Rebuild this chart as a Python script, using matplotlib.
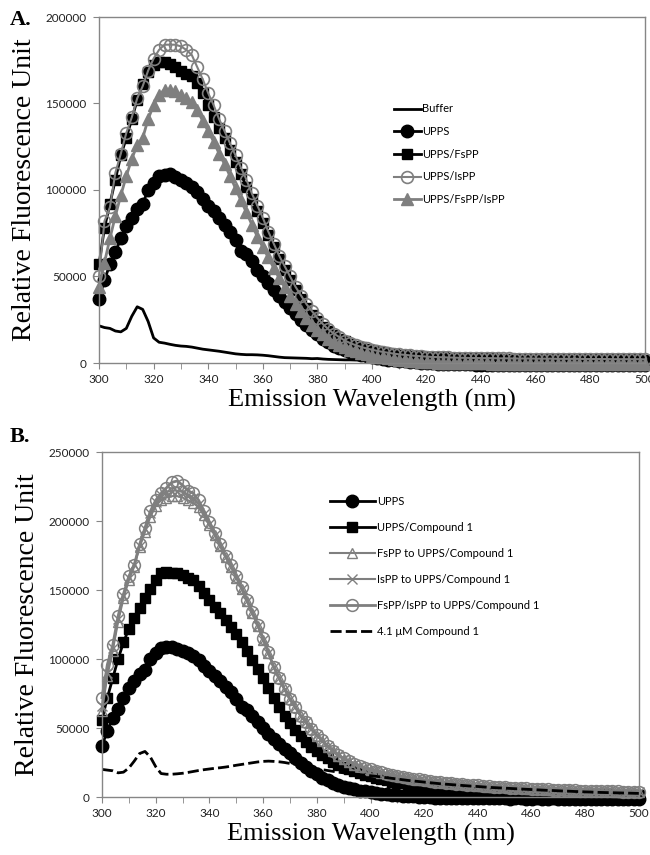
import numpy as np
import matplotlib
matplotlib.use('Agg')
import matplotlib.pyplot as plt
from matplotlib.ticker import MultipleLocator

# emission wavelength, one reading every 2 nm
wavelength = np.arange(300, 501, 2)

# ---- panel A, values in thousands of RFU ----
buffer_a = [21.5, 20.5, 20.0, 18.5, 18.0, 20.0, 27.0, 32.5, 31.0, 24.0,
            14.5, 12.0, 11.5, 10.8, 10.2, 9.8, 9.6, 9.2, 8.6, 8.0,
            7.6, 7.2, 6.8, 6.3, 5.8, 5.3, 5.0, 4.8, 4.8, 4.7,
            4.5, 4.2, 3.8, 3.4, 3.1, 3.0, 2.9, 2.8, 2.7, 2.5,
            2.6, 2.3, 2.1, 2.0, 1.9, 1.8, 1.8, 1.7, 1.7, 1.6,
            1.5, 1.5, 1.4, 1.4, 1.3, 1.3, 1.2, 1.2, 1.1, 1.1,
            1.0, 1.0, 1.0, 0.9, 0.9, 0.9, 0.8, 0.8, 0.8, 0.8,
            0.7, 0.7, 0.7, 0.7, 0.7, 0.6, 0.6, 0.6, 0.6, 0.6,
            0.6, 0.5, 0.5, 0.5, 0.5, 0.5, 0.5, 0.5, 0.4, 0.4,
            0.4, 0.4, 0.4, 0.4, 0.4, 0.3, 0.3, 0.3, 0.3, 0.3,
            0.3]

upps = [37, 48, 57, 64, 72, 79, 84, 89, 92, 100,
        104, 108, 108.5, 109, 107.5, 106, 104, 102, 99, 95,
        91, 88, 84, 80, 76, 71, 65, 63, 59, 54,
        50, 46, 42, 38.5, 35, 32, 28.5, 25, 22, 19,
        16.5, 14, 12, 10, 8.5, 7.3, 6.3, 5.5, 4.7, 4.0,
        3.4, 2.9, 2.4, 2.0, 1.6, 1.3, 1.0, 0.7, 0.4, 0.2,
        0.0, -0.2, -0.4, -0.5, -0.6, -0.7, -0.7, -0.8, -0.8, -0.9,
        -0.9, -0.9, -1.0, -1.0, -1.0, -1.0, -1.1, -1.0, -1.0, -1.1,
        -1.1, -1.0, -1.1, -1.1, -1.0, -1.1, -1.1, -1.2, -1.1, -1.1,
        -1.2, -1.1, -1.2, -1.2, -1.1, -1.2, -1.2, -1.2, -1.1, -1.2,
        -1.2]

upps_fspp = [57, 78, 92, 106, 120, 130, 141, 152, 161, 168,
             172, 174, 174, 173, 171, 169, 167, 166, 162, 156,
             149, 142, 136, 130, 123, 116, 109, 102, 95, 88,
             81, 74, 67, 60, 54, 48, 42, 37, 32, 28,
             24, 21, 18.5, 16, 14, 12.5, 11, 10, 9.0, 8.2,
             7.5, 6.8, 6.2, 5.7, 5.3, 4.9, 4.6, 4.3, 4.0, 3.8,
             3.6, 3.4, 3.3, 3.2, 3.1, 3.0, 2.9, 2.9, 2.8, 2.8,
             2.7, 2.7, 2.7, 2.6, 2.6, 2.6, 2.5, 2.5, 2.5, 2.5,
             2.4, 2.4, 2.4, 2.4, 2.3, 2.3, 2.3, 2.3, 2.3, 2.2,
             2.2, 2.2, 2.2, 2.2, 2.1, 2.1, 2.1, 2.1, 2.1, 2.1,
             2.0]

upps_ispp = [50, 82, 90, 110, 121, 133, 142, 153, 160, 169,
             176, 181, 184, 184, 184, 183, 181, 178, 171, 164,
             156, 149, 141, 134, 127, 120, 113, 106, 98, 91,
             84, 76, 69, 62, 56, 50, 44, 39, 34, 30,
             26, 22.5, 19.5, 17, 15, 13, 11.5, 10.3, 9.3, 8.4,
             7.7, 7.0, 6.4, 5.9, 5.4, 5.0, 4.7, 4.4, 4.1, 3.9,
             3.7, 3.5, 3.4, 3.3, 3.2, 3.1, 3.0, 3.0, 2.9, 2.9,
             2.8, 2.8, 2.8, 2.7, 2.7, 2.7, 2.6, 2.6, 2.6, 2.6,
             2.5, 2.5, 2.5, 2.5, 2.4, 2.4, 2.4, 2.4, 2.4, 2.3,
             2.3, 2.3, 2.3, 2.3, 2.2, 2.2, 2.2, 2.2, 2.2, 2.2,
             2.1]

upps_fspp_ispp = [44, 58, 72, 85, 97, 108, 118, 126, 130, 141,
                  149, 155, 158, 158, 157, 155, 153, 151, 146, 140,
                  134, 128, 121, 115, 108, 101, 94, 87, 80, 73,
                  67, 61, 55, 49, 44, 39, 34, 30, 26, 22,
                  19, 16.5, 14, 12, 10.5, 9.0, 7.8, 6.7, 5.8, 5.0,
                  4.3, 3.7, 3.2, 2.7, 2.3, 1.9, 1.6, 1.3, 1.0, 0.7,
                  0.5, 0.3, 0.2, 0.1, 0.0, 0.0, -0.1, -0.1, -0.2, -0.2,
                  -0.2, -0.2, -0.3, -0.3, -0.3, -0.3, -0.3, -0.3, -0.4, -0.4,
                  -0.4, -0.4, -0.4, -0.4, -0.4, -0.4, -0.5, -0.5, -0.5, -0.5,
                  -0.5, -0.5, -0.5, -0.5, -0.5, -0.5, -0.5, -0.5, -0.5, -0.5,
                  -0.5]

# ---- panel B, values in thousands of RFU (UPPS curve is the same as A) ----
upps_cmpd1 = [56, 72, 86, 100, 112, 122, 130, 137, 144, 151,
              157, 162, 163, 162, 162, 161, 159, 157, 153, 148,
              143, 138, 133, 128, 123, 118, 112, 106, 99, 93,
              86, 79, 72, 65, 59, 53.5, 48.5, 44, 40, 36.5,
              33, 30.5, 28, 25.5, 23.5, 21.5, 20, 18.5, 17.2, 16,
              15, 14, 13, 12, 11.2, 10.5, 9.9, 9.3, 8.8, 8.3,
              7.8, 7.4, 7.0, 6.6, 6.2, 5.9, 5.6, 5.3, 5.0, 4.8,
              4.6, 4.4, 4.2, 4.0, 3.8, 3.6, 3.5, 3.4, 3.2, 3.1,
              3.0, 2.9, 2.8, 2.7, 2.6, 2.5, 2.4, 2.3, 2.3, 2.2,
              2.1, 2.1, 2.0, 1.9, 1.9, 1.8, 1.8, 1.7, 1.7, 1.6,
              1.6]

fspp_to_cmpd1 = [62, 88, 106, 127, 144, 157, 167, 181, 192, 203,
                 211, 215, 217, 218, 218, 217, 215, 213, 210, 204,
                 197, 190, 182, 174, 167, 159, 151, 142, 133, 124,
                 114, 104, 94, 86, 78, 71, 65, 59, 54, 49,
                 44.5, 40.5, 36.5, 33, 30, 27.5, 25.5, 23.5, 22, 20.5,
                 19.5, 18.5, 17.5, 16.6, 15.8, 15.0, 14.3, 13.7, 13.1, 12.5,
                 12.0, 11.5, 11.0, 10.6, 10.2, 9.8, 9.4, 9.1, 8.8, 8.5,
                 8.2, 7.9, 7.6, 7.4, 7.1, 6.9, 6.7, 6.5, 6.3, 6.1,
                 5.9, 5.7, 5.6, 5.4, 5.3, 5.1, 5.0, 4.9, 4.7, 4.6,
                 4.5, 4.4, 4.3, 4.2, 4.1, 4.0, 3.9, 3.8, 3.8, 3.7,
                 3.6]

ispp_to_cmpd1 = [66, 90, 108, 129, 146, 159, 168, 182, 194, 206,
                 214, 219, 221, 222, 222, 221, 219, 217, 212, 205,
                 198, 190, 182, 174, 167, 159, 151, 142, 133, 124,
                 114, 104, 94, 86, 78, 71, 65, 59, 54, 49,
                 44.8, 40.8, 36.8, 33.2, 30.2, 27.8, 25.8, 23.8, 22.2, 20.8,
                 19.8, 18.8, 17.8, 16.8, 16.0, 15.2, 14.5, 13.8, 13.2, 12.6,
                 12.1, 11.6, 11.1, 10.7, 10.3, 9.9, 9.5, 9.2, 8.9, 8.6,
                 8.3, 8.0, 7.7, 7.4, 7.2, 7.0, 6.8, 6.6, 6.4, 6.2,
                 6.0, 5.8, 5.6, 5.5, 5.3, 5.2, 5.0, 4.9, 4.8, 4.7,
                 4.6, 4.5, 4.4, 4.3, 4.2, 4.1, 4.0, 3.9, 3.8, 3.7,
                 3.7]

fspp_ispp_to_cmpd1 = [72, 96, 110, 131, 147, 160, 168, 183, 195, 207,
                      215, 220, 224, 228, 229, 226, 222, 220, 215, 207,
                      199, 191, 183, 175, 168, 160, 152, 143, 134, 125,
                      115, 105, 94, 86, 78, 71, 65, 59, 54, 49,
                      45, 41, 37, 33.5, 30.5, 28, 26, 24, 22.5, 21,
                      20, 19, 18, 17, 16.2, 15.4, 14.7, 14.0, 13.4, 12.8,
                      12.2, 11.7, 11.2, 10.8, 10.4, 10.0, 9.6, 9.3, 9.0, 8.7,
                      8.4, 8.1, 7.8, 7.5, 7.3, 7.0, 6.8, 6.6, 6.4, 6.2,
                      6.0, 5.8, 5.7, 5.5, 5.4, 5.2, 5.1, 5.0, 4.8, 4.7,
                      4.6, 4.5, 4.4, 4.3, 4.2, 4.1, 4.0, 3.9, 3.9, 3.8,
                      3.7]

cmpd1_only = [20, 19.5, 19, 17.5, 18, 21, 26, 31.5, 33, 29,
              22, 17, 16.5, 16.5, 16.8, 17.2, 17.8, 18.5, 19.2, 19.8,
              20.3, 20.8, 21.2, 21.7, 22.3, 23, 23.6, 24.2, 24.8, 25.4,
              25.8, 26, 25.8, 25.5, 25, 24.3, 23.6, 22.8, 22, 21.2,
              20.5, 19.8, 19.2, 18.6, 18.0, 17.5, 17.0, 16.6, 16.2, 15.8,
              15.4, 15.0, 14.5, 14.0, 13.5, 13.0, 12.5, 12.0, 11.6, 11.2,
              10.8, 10.4, 10.0, 9.6, 9.3, 9.0, 8.7, 8.4, 8.1, 7.8,
              7.6, 7.3, 7.0, 6.8, 6.6, 6.4, 6.2, 6.0, 5.8, 5.6,
              5.4, 5.2, 5.0, 4.8, 4.7, 4.5, 4.3, 4.2, 4.0, 3.9,
              3.7, 3.6, 3.4, 3.3, 3.2, 3.1, 3.0, 2.9, 2.8, 2.7,
              2.6]

GREY = '#7f7f7f'
TICK_FONT = 'Lato'
LABEL_FONT = 'Liberation Serif'


def k(values):
    return np.array(values) * 1000


def style_axes(ax, ymax):
    ax.set_xlim(300, 500)
    ax.set_ylim(0, ymax)
    ax.xaxis.set_major_locator(MultipleLocator(20))
    ax.xaxis.set_minor_locator(MultipleLocator(10))
    ax.yaxis.set_major_locator(MultipleLocator(50000))
    ax.tick_params(axis='both', which='both', direction='out', length=4,
                   color='#868686', labelsize=8.5, labelcolor='#222222')
    ax.tick_params(axis='x', pad=4)
    ax.tick_params(axis='y', pad=5)
    for lab in ax.get_xticklabels() + ax.get_yticklabels():
        lab.set_fontfamily(TICK_FONT)
    ax.yaxis.set_major_formatter(plt.FuncFormatter(lambda v, p: '%d' % v))
    for sp in ax.spines.values():
        sp.set_color('#868686')
        sp.set_linewidth(1)
    ax.set_xlabel('Emission Wavelength (nm)', fontfamily=LABEL_FONT, fontsize=19, labelpad=3)
    ax.set_ylabel('Relative Fluorescence Unit', fontfamily=LABEL_FONT, fontsize=20, labelpad=6)


fig = plt.figure(figsize=(6.5, 8.55), dpi=100)

# ---- A ----
axa = fig.add_axes([99 / 650, 1 - 363 / 855, 546 / 650, 346 / 855])
axa.plot(wavelength, k(buffer_a), color='black', lw=2, label='Buffer')
axa.plot(wavelength, k(upps), color='black', lw=2, marker='o', ms=9,
         label='UPPS', clip_on=False)
axa.plot(wavelength, k(upps_fspp), color='black', lw=2, marker='s', ms=7.5,
         label='UPPS/FsPP', clip_on=False)
axa.plot(wavelength, k(upps_ispp), color=GREY, lw=1.5, marker='o', ms=8.5,
         mfc='none', mec=GREY, mew=1.2, label='UPPS/IsPP', clip_on=False)
axa.plot(wavelength, k(upps_fspp_ispp), color=GREY, lw=2, marker='^', ms=8,
         mec=GREY, label='UPPS/FsPP/IsPP', clip_on=False)
style_axes(axa, 200000)
axa.legend(loc='upper left', bbox_to_anchor=(0.54, 0.75), frameon=False,
           numpoints=1, handlelength=2.4, handletextpad=0.15,
           labelspacing=1.05, borderpad=0, borderaxespad=0,
           prop={'family': TICK_FONT, 'size': 8})

# ---- B ----
axb = fig.add_axes([102 / 650, 1 - 797 / 855, 537 / 650, 345 / 855])
axb.plot(wavelength, k(upps), color='black', lw=2, marker='o', ms=9,
         label='UPPS', clip_on=False)
axb.plot(wavelength, k(upps_cmpd1), color='black', lw=2, marker='s', ms=7.5,
         label='UPPS/Compound 1', clip_on=False)
axb.plot(wavelength, k(fspp_to_cmpd1), color=GREY, lw=1.5, marker='^', ms=7.5,
         mfc='none', mec=GREY, mew=1, label='FsPP to UPPS/Compound 1', clip_on=False)
axb.plot(wavelength, k(ispp_to_cmpd1), color=GREY, lw=1.5, marker='x', ms=7,
         mec=GREY, mew=1, label='IsPP to UPPS/Compound 1', clip_on=False)
axb.plot(wavelength, k(fspp_ispp_to_cmpd1), color=GREY, lw=2, marker='o', ms=8.5,
         mfc='none', mec=GREY, mew=1.1, label='FsPP/IsPP to UPPS/Compound 1',
         clip_on=False)
axb.plot(wavelength, k(cmpd1_only), color='black', lw=2, ls=(0, (4, 1.5)),
         label='4.1 \u03bcM Compound 1')
style_axes(axb, 250000)
axb.legend(loc='upper left', bbox_to_anchor=(0.425, 0.872), frameon=False,
           numpoints=1, handlelength=4.0, handletextpad=0.2,
           labelspacing=1.35, borderpad=0, borderaxespad=0,
           prop={'family': TICK_FONT, 'size': 8})

fig.text(0.015, 0.977, 'A.', fontfamily=LABEL_FONT, fontweight='bold', fontsize=16,
         va='center')
fig.text(0.015, 0.489, 'B.', fontfamily=LABEL_FONT, fontweight='bold', fontsize=16,
         va='center')

fig.savefig('out.png', dpi=100)
